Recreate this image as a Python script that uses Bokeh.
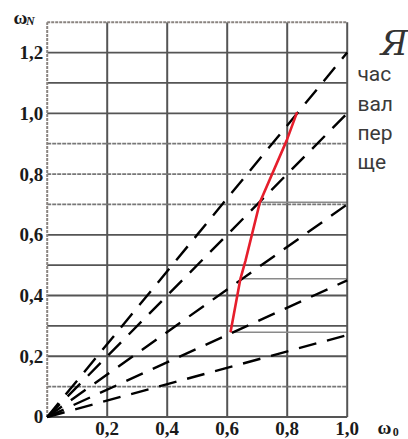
from bokeh.plotting import figure
from bokeh.models import Range1d, FixedTicker, LinearAxis
from bokeh.core.properties import value
from bokeh.embed import file_html
from bokeh.resources import INLINE

# ---- data ----
x_ticks = [0.2, 0.4, 0.6, 0.8, 1.0]
x_tick_labels = ["0,2", "0,4", "0,6", "0,8", "1,0"]
y_ticks = [0.0, 0.2, 0.4, 0.6, 0.8, 1.0, 1.2]
y_tick_labels = ["0", "0,2", "0,4", "0,6", "0,8", "1,0", "1,2"]

grid_x = [0.2, 0.4, 0.6, 0.8]
grid_y_solid = [0.2, 0.3, 0.4, 0.5, 0.6, 1.0, 1.1, 1.2]
grid_y_dotted = [0.1, 0.7, 0.8, 0.9]
x_max = 1.0
y_max = 1.3

# dashed rays from the origin: value of ω_N reached at ω_0 = 1.0
ray_end_y = [1.2, 1.0, 0.7, 0.45, 0.27]

# red curve
curve_x = [0.611, 0.644, 0.661, 0.709, 0.798, 0.833]
curve_y = [0.279, 0.455, 0.515, 0.707, 0.910, 1.004]

# horizontal guide lines from curve points to the right border
guide_x = [0.611, 0.644, 0.709]
guide_y = [0.279, 0.455, 0.707]

side_words = ["час", "вал", "пер", "ще"]

# ---- figure ----
p = figure(width=408, height=439, output_backend="svg", toolbar_location=None,
           x_range=Range1d(-0.1557, 1.2043), y_range=Range1d(-0.0741, 1.3714),
           x_axis_type=None, y_axis_type=None, min_border=0)
p.outline_line_color = None
p.background_fill_color = "white"
p.border_fill_color = "white"

grid_col = "#555555"
# vertical grid lines
p.segment(x0=grid_x, y0=0, x1=grid_x, y1=y_max, line_color=grid_col, line_width=2)
# horizontal grid lines
p.segment(x0=0, y0=grid_y_solid, x1=x_max, y1=grid_y_solid, line_color=grid_col, line_width=1.8)
p.segment(x0=0, y0=grid_y_dotted, x1=x_max, y1=grid_y_dotted, line_color="#777777",
          line_width=1.8, line_dash="4 1")
# guide lines
p.segment(x0=guide_x, y0=guide_y, x1=x_max, y1=guide_y, line_color="#8a8a8a", line_width=1.5)
# borders
p.segment(x0=[0, 0], y0=[0, y_max], x1=[0, x_max], y1=[y_max, y_max],
          line_color="#8a8480", line_width=2, line_dash="3 1")
p.segment(x0=[0, x_max], y0=[0, 0], x1=[x_max, x_max], y1=[0, y_max],
          line_color="#555555", line_width=2)

# dashed rays
p.segment(x0=0, y0=0, x1=x_max, y1=ray_end_y, line_color="black", line_width=2.4,
          line_dash="18 11")

# red curve
p.line(curve_x, curve_y, line_color="#e61e2c", line_width=2.6)

# axes
lab_font = value("Liberation Serif")
xaxis = LinearAxis(ticker=FixedTicker(ticks=x_ticks), fixed_location=0,
                   major_label_overrides={t: l for t, l in zip(x_ticks, x_tick_labels)})
yaxis = LinearAxis(ticker=FixedTicker(ticks=y_ticks), fixed_location=0,
                   major_label_overrides={t: l for t, l in zip(y_ticks, y_tick_labels)})
for ax in (xaxis, yaxis):
    ax.axis_line_color = None
    ax.major_tick_line_color = None
    ax.minor_tick_line_color = None
    ax.major_tick_out = 0
    ax.major_tick_in = 0
    ax.major_label_text_font = "Liberation Serif"
    ax.major_label_text_font_size = "19px"
    ax.major_label_text_font_style = "bold"
    ax.major_label_text_color = "#1a1a1a"
xaxis.major_label_standoff = 5
yaxis.major_label_standoff = 4
p.add_layout(xaxis, "below")
p.add_layout(yaxis, "left")

# axis titles
p.text(x=[-0.112], y=[1.317], text=["ω"], text_font=lab_font, text_font_size="19px",
       text_font_style="bold", text_color="#1a1a1a", text_baseline="middle", text_align="left")
p.text(x=[-0.071], y=[1.303], text=["N"], text_font=lab_font, text_font_size="12px",
       text_font_style="bold italic", text_color="#1a1a1a", text_baseline="middle", text_align="left")
p.text(x=[1.101], y=[-0.036], text=["ω"], text_font=lab_font, text_font_size="19px",
       text_font_style="bold", text_color="#1a1a1a", text_baseline="middle", text_align="left")
p.text(x=[1.152], y=[-0.048], text=["0"], text_font=lab_font, text_font_size="12px",
       text_font_style="bold", text_color="#1a1a1a", text_baseline="middle", text_align="left")

# side text (cut-off article column)
p.text(x=[1.111], y=[1.23], text=["Я"], text_font=value("DejaVu Serif"), text_font_size="34px",
       text_font_style="italic", text_color="#333333", text_baseline="middle", text_align="left")
side_y = [1.128, 1.032, 0.936, 0.841]
p.text(x=[1.034] * len(side_words), y=side_y, text=side_words, text_font=value("Roboto"),
       text_font_size="21px", text_color="#3a3a3a", text_baseline="middle", text_align="left")

open("out.html", "w").write(file_html(p, INLINE))
